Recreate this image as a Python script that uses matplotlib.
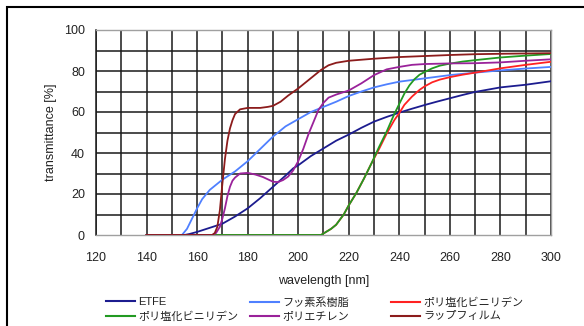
import matplotlib
matplotlib.use("Agg")
import matplotlib.pyplot as plt
from matplotlib.patches import Rectangle

plt.rcParams['font.family'] = ['Liberation Sans', 'Noto Sans CJK JP', 'DejaVu Sans']

# Transmittance spectra [%] against wavelength [nm]
etfe_wl = [140, 155, 157, 160, 165, 170, 175, 180, 185, 190, 195, 198, 200, 205, 209, 215, 220, 225, 230, 235,
           240, 245, 250, 255, 260, 265, 270, 280, 290, 300]
etfe_t = [0, 0, 0.5, 1.5, 3.5, 5.5, 9, 13, 18, 23.5, 29, 32.5, 34, 38.5, 41.5, 46, 49, 52.3, 55.3, 57.6,
          59.7, 61.6, 63.4, 65.1, 66.7, 68.3, 69.8, 72, 73.3, 75]

fluoro_wl = [140, 154, 156, 158, 160, 162, 165, 170, 175, 180, 185, 190, 195, 200, 205, 210, 215, 220, 225,
             230, 235, 240, 250, 260, 270, 280, 290, 300]
fluoro_t = [0, 0, 3, 8, 13, 17.5, 22, 27, 31, 36, 42, 48, 53, 56.5, 60, 62.5, 65, 67.8, 70,
            72, 73.5, 74.8, 76.4, 78, 79.2, 80.3, 81.2, 82]

pvdc_red_wl = [140, 209, 211, 213, 215, 218, 220, 223, 226, 229, 232, 235, 238, 240, 242, 245, 248, 250,
               253, 256, 260, 265, 270, 280, 290, 300]
pvdc_red_t = [0, 0, 1.5, 3, 5, 10, 14.5, 20.5, 27.5, 35, 42, 49.5, 56, 59.5, 63.5, 67.5, 70.8, 72.5,
              74.5, 75.8, 77, 78.2, 79.2, 81.3, 83, 84.5]

pvdc_green_wl = [140, 209, 211, 213, 215, 218, 220, 223, 226, 229, 232, 235, 238, 240, 242, 244, 246, 248,
                 250, 253, 256, 260, 265, 270, 280, 290, 300]
pvdc_green_t = [0, 0, 1.5, 3, 5, 10, 14.5, 20.5, 27.5, 35, 43, 50.5, 59, 64, 69, 73, 76, 78.2,
                79.5, 81.3, 82.6, 83.6, 84.6, 85.3, 86.6, 87.5, 88.3]

pe_wl = [140, 166, 167.5, 169, 170, 171, 172, 173, 174, 175, 177, 180, 183, 186, 190, 192, 194, 196, 198,
         200, 202, 204, 206, 208, 210, 212, 215, 220, 225, 230, 235, 240, 245, 250, 260, 270, 280, 290, 300]
pe_t = [0, 0, 1, 4, 8, 13, 19, 23.5, 26.5, 28, 30, 30.3, 29.5, 28.3, 26, 25.8, 26.8, 28.5, 31.5,
        36, 42, 49, 55, 61, 64.5, 67, 68.5, 70.5, 74, 78, 80.8, 82, 83, 83.4, 83.7, 83.8, 84.2, 85, 85.7]

wrap_wl = [140, 166, 167, 168, 169, 170, 171, 172, 173, 174, 175, 177, 180, 185, 188, 190, 193, 196, 200,
           203, 206, 209, 212, 215, 220, 230, 240, 250, 260, 270, 280, 300]
wrap_t = [0, 0, 1, 4, 12, 25, 37, 46, 52, 56, 59, 61.3, 62, 62, 62.5, 63, 65, 68, 71.5,
          74.5, 77.5, 80.5, 82.8, 84, 85, 86, 86.8, 87.3, 87.8, 88.2, 88.4, 88.7]

labels = ["ETFE", "フッ素系樹脂", "ポリ塩化ビニリデン", "ポリ塩化ビニリデン", "ポリエチレン", "ラップフィルム"]
colors = ["#1c1c8f", "#4f80ff", "#ff2222", "#229a22", "#9a229a", "#8c1c1c"]
series = [(etfe_wl, etfe_t), (fluoro_wl, fluoro_t), (pvdc_red_wl, pvdc_red_t),
          (pvdc_green_wl, pvdc_green_t), (pe_wl, pe_t), (wrap_wl, wrap_t)]

x_ticks = list(range(120, 301, 20))
y_ticks = list(range(0, 101, 20))

W, H = 584, 326
fig = plt.figure(figsize=(W / 100, H / 100), dpi=100)
fig.patch.set_facecolor("white")

ax = fig.add_axes([96 / W, 1 - 235 / H, 455 / W, 205 / H])
ax.set_xlim(120, 300)
ax.set_ylim(0, 100)

# grid every 10 units
for gx in range(120, 301, 10):
    ax.axvline(gx, color="#1a1a1a", lw=1.1, zorder=1)
for gy in range(10, 101, 10):
    ax.axhline(gy, color="#1a1a1a", lw=1.1, zorder=1)

handles = []
for (wl, t), c, lab in zip(series, colors, labels):
    h, = ax.plot(wl, t, color=c, lw=1.3, zorder=3, label=lab)
    handles.append(h)

ax.set_xticks(x_ticks)
ax.set_yticks(y_ticks)
ax.tick_params(length=0, labelsize=9, labelcolor="#222222")
ax.tick_params(axis="y", pad=8)
ax.tick_params(axis="x", pad=12.5)
for side in ["top", "right", "bottom"]:
    ax.spines[side].set_color("#a0a0a0")
    ax.spines[side].set_linewidth(1.0)
ax.spines["left"].set_color("#1a1a1a")
ax.spines["left"].set_linewidth(1.1)

ax.set_xlabel("wavelength [nm]", fontsize=9, color="#222222", labelpad=7.5)
ax.set_ylabel("transmittance [%]", fontsize=9, color="#222222", labelpad=5)

# legend: three columns, two rows
col_x = [106 / W, 250 / W, 391 / W]
for i, cx in enumerate(col_x):
    leg = fig.legend([handles[i], handles[i + 3]], [labels[i], labels[i + 3]],
                     loc="upper left", bbox_to_anchor=(cx, 1 - 297 / H),
                     bbox_transform=fig.transFigure, frameon=False, fontsize=8,
                     handlelength=2.6, handletextpad=0.3, labelspacing=0.35,
                     borderpad=0, borderaxespad=0)
    for line in leg.get_lines():
        line.set_linewidth(1.5)
    for txt in leg.get_texts():
        txt.set_color("#222222")

# outer frame (only its left and top edges fall inside the image)
fig.add_artist(Rectangle((7 / W, -0.2), 1.2, 1 - 7 / H + 0.2, transform=fig.transFigure,
                         fill=False, edgecolor="black", lw=1.5, clip_on=False))

fig.savefig("out.png", dpi=100)
